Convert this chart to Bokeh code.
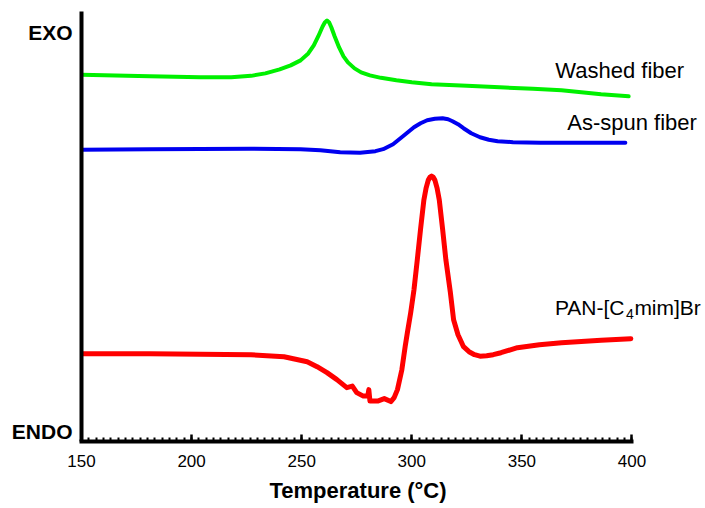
from bokeh.plotting import figure
from bokeh.models import Range1d, SingleIntervalTicker, FixedTicker, Label, Title
from bokeh.embed import file_html
from bokeh.resources import INLINE

# ---- data (temperature in °C, heat-flow signal in arbitrary units) ----
washed_T = [150, 181, 204, 218, 227, 233.5, 240, 245, 249.5, 253, 255.5, 257.5, 259.5,
            260.5, 261.5, 262.5, 263.5, 265, 267, 269, 271, 274, 277, 281, 286, 293,
            300, 309, 325, 340, 355, 368, 386, 398.5]
washed_y = [367.5, 366, 365, 365, 366.5, 369, 373, 377, 382, 389, 397, 406, 416,
            420, 422, 420, 415, 406, 395, 386, 380, 374, 370, 367, 364.5, 362,
            360, 358, 356.5, 355, 353.5, 352, 348, 346]

asspun_T = [150, 181, 227, 249.5, 258.5, 267.5, 276.5, 283.5, 287, 291.5, 296, 301,
            304, 307, 310.5, 314, 316.5, 318.5, 321, 323.5, 327, 331, 335, 339, 346,
            358.5, 377, 397]
asspun_y = [292.5, 293, 293.5, 293, 292, 290, 289.5, 291, 293, 298, 306, 315,
            319, 322, 323.5, 324, 323, 321, 318, 314, 309, 305, 302.5, 301, 300,
            299.5, 299.5, 299.5]

pan_T = [150, 181, 204, 227, 242, 252.5, 257, 261.5, 266, 270.5, 273, 275, 278, 280,
         280.5, 281, 284.5, 287.5, 290.5, 292, 293.5, 295.5, 297, 298, 299.5, 301,
         302.5, 304, 305.5, 306.5, 307.5, 308.3, 309, 309.7, 310.5, 311.5, 312.5,
         314, 315.5, 317.5, 319, 321, 323.5, 326, 328.5, 331, 334, 337, 340.5, 348,
         358, 368, 386, 399.5]
pan_y = [88, 88, 87.5, 87, 85, 80, 75, 69, 62, 54, 55.5, 49, 45.5, 45.5,
         52, 40.5, 40.5, 43, 40, 44, 52, 72, 95, 109, 129, 152,
         182, 213, 242, 254, 262, 265, 266, 265, 262, 254, 242,
         213, 182, 150, 122, 107, 95, 90, 87, 85.5, 86, 87, 89, 94,
         97, 99, 101.5, 103]

x_ticks_interval = 50
x_minor_per_major = 15
FONT = "Liberation Sans"

p = figure(width=705, height=508, x_range=Range1d(150, 432.5), y_range=Range1d(0, 431),
           output_backend="svg", toolbar_location=None,
           min_border_left=81, min_border_right=2, min_border_top=11, min_border_bottom=66)
p.outline_line_color = None
p.xgrid.visible = False
p.ygrid.visible = False
p.background_fill_color = "white"
p.border_fill_color = "white"

p.line(washed_T, washed_y, line_color="#00f000", line_width=4, line_join="round", line_cap="round")
p.line(asspun_T, asspun_y, line_color="#0000f0", line_width=4, line_join="round", line_cap="round")
p.line(pan_T, pan_y, line_color="#ff0000", line_width=5, line_join="round", line_cap="round")

# x axis (rule limited to 150-400)
xa = p.xaxis[0]
xa.bounds = (150, 400)
xa.ticker = SingleIntervalTicker(interval=x_ticks_interval, num_minor_ticks=x_minor_per_major)
xa.axis_line_width = 4
xa.axis_line_cap = "square"
xa.major_tick_in = 7
xa.major_tick_out = 0
xa.major_tick_line_width = 2.5
xa.minor_tick_in = 4
xa.minor_tick_out = 0
xa.minor_tick_line_width = 2
xa.major_label_text_font = FONT
xa.major_label_text_font_size = "17px"
xa.major_label_text_color = "black"
xa.major_label_standoff = 13

# axis title, centred under the 150-400 rule
p.add_layout(Title(text="Temperature (°C)", align="left", offset=188, standoff=12,
                   text_font=FONT, text_font_size="22px", text_font_style="bold",
                   text_color="black"), "below")

# y axis: line plus EXO / ENDO labels
ya = p.yaxis[0]
ya.ticker = FixedTicker(ticks=[10, 410])
ya.major_label_overrides = {10: "ENDO", 410: "EXO"}
ya.axis_line_width = 4
ya.major_tick_line_color = None
ya.minor_tick_line_color = None
ya.major_tick_in = 0
ya.major_tick_out = 0
ya.major_label_standoff = 9
ya.major_label_text_font = FONT
ya.major_label_text_font_size = "21px"
ya.major_label_text_font_style = "bold"
ya.major_label_text_color = "black"


def lab(x, y, text, size="21px", x_offset=0):
    p.add_layout(Label(x=x, y=y, text=text, text_font=FONT, text_font_size=size,
                       text_color="black", text_align="left", text_baseline="alphabetic",
                       x_offset=x_offset))


lab(365.2, 372, "Washed fiber", size="22px")
lab(370.6, 319.7, "As-spun fiber", size="22px")
lab(365, 134, "PAN-[C")
lab(365, 128, "4", size="14px", x_offset=71)
lab(365, 134, "mim]Br", x_offset=79.5)

open("out.html", "w").write(file_html(p, INLINE))
